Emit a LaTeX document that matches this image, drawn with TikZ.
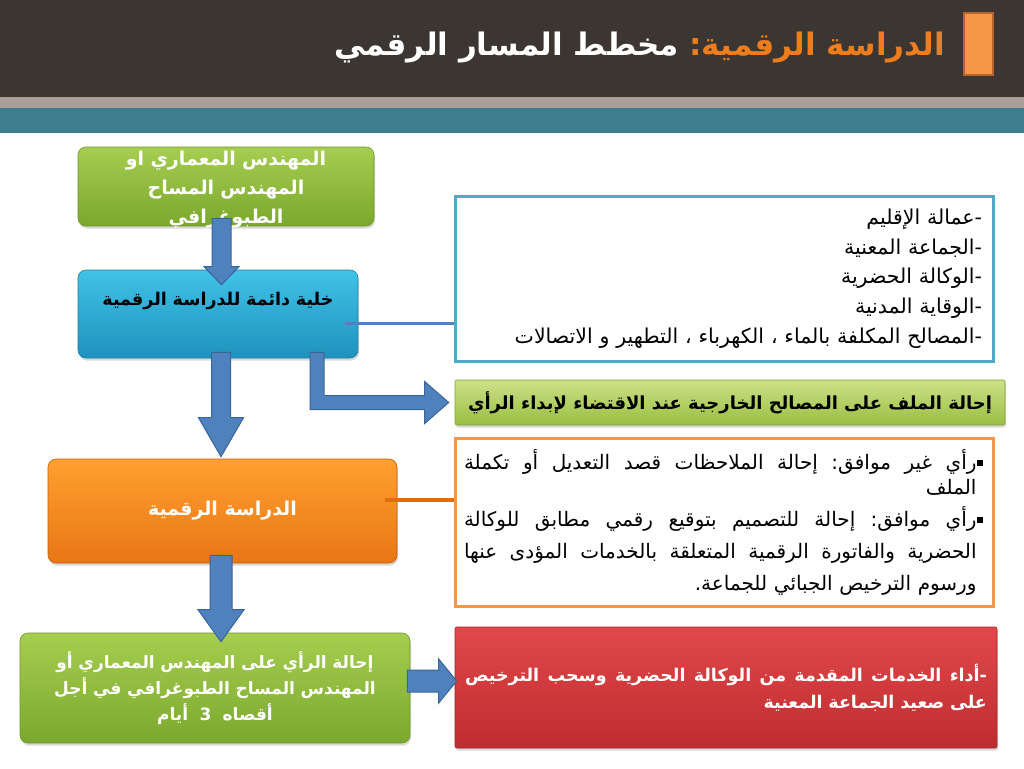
\documentclass[tikz,border=0pt]{standalone}
\usepackage{fontspec}
\newfontfamily\arabicfont[Script=Arabic]{DejaVu Sans}
\TeXXeTstate=1
\usepackage{xcolor}
\definecolor{headdark}{HTML}{3B3631}
\definecolor{headgray}{HTML}{A79F98}
\definecolor{headteal}{HTML}{3D7E8E}
\definecolor{titleorange}{HTML}{EE7D1E}
\definecolor{markfill}{HTML}{F79646}
\definecolor{markline}{HTML}{B5652E}
\definecolor{arrowblue}{HTML}{4F81BD}
\definecolor{arrowline}{HTML}{3A6598}
\definecolor{listline}{HTML}{4BACC6}
\definecolor{noteorange}{HTML}{F79646}
\definecolor{linkorange}{HTML}{E36C09}
\usetikzlibrary{calc,positioning,shadows}
\tikzset{
  every picture/.style={line width=0.6pt},
  card/.style={rounded corners=8pt, align=center, inner sep=6pt,
    drop shadow={shadow xshift=1pt, shadow yshift=-2.5pt, opacity=0.3}},
  greencard/.style={card, top color={rgb,255:red,166;green,206;blue,80}, bottom color={rgb,255:red,122;green,168;blue,45}, draw={rgb,255:red,112;green,150;blue,44}},
  palecard/.style={card, rounded corners=2pt, top color={rgb,255:red,204;green,225;blue,136}, bottom color={rgb,255:red,154;green,190;blue,66}, draw={rgb,255:red,130;green,160;blue,60}},
  cyancard/.style={card, top color={rgb,255:red,64;green,194;blue,232}, bottom color={rgb,255:red,30;green,146;blue,190}, draw={rgb,255:red,34;green,126;blue,162}},
  orangecard/.style={card, top color={rgb,255:red,255;green,160;blue,48}, bottom color={rgb,255:red,232;green,118;blue,20}, draw={rgb,255:red,196;green,98;blue,14}},
  redcard/.style={card, rounded corners=2pt, top color={rgb,255:red,226;green,72;blue,74}, bottom color={rgb,255:red,190;green,44;blue,48}, draw={rgb,255:red,160;green,36;blue,40}},
  listbox/.style={draw=#1, line width=3pt, fill=white, inner sep=0pt},
  marker/.style={fill=markfill, draw=markline, line width=2pt, minimum width=29, minimum height=62, inner sep=0pt},
  titletext/.style={font=\arabicfont\bfseries\fontsize{31}{38}\selectfont, inner xsep=0pt},
  fatarrow/.style={fill=arrowblue, draw=arrowline, line width=1pt, line join=miter},
  linkline/.style={draw=#1, line width=3pt},
  plaintext/.style={font=\arabicfont\fontsize{#1}{29.75}\selectfont},
  boldtext/.style={font=\arabicfont\bfseries\fontsize{#1}{28}\selectfont},
}
% block arrows: start, tip, shaft half width, head half width, head length
\newcommand{\fatdown}[5]{%
  \draw[fatarrow] ($(#1)+(-#3,0)$) -- ($(#1)+(#3,0)$) -- ($(#2)+(#3,-#5)$) -- ($(#2)+(#4,-#5)$)
    -- (#2) -- ($(#2)+(-#4,-#5)$) -- ($(#2)+(-#3,-#5)$) -- cycle;}
\newcommand{\fatright}[5]{%
  \draw[fatarrow] ($(#1)+(0,-#3)$) -- ($(#1)+(0,#3)$) -- ($(#2)+(-#5,#3)$) -- ($(#2)+(-#5,#4)$)
    -- (#2) -- ($(#2)+(-#5,-#4)$) -- ($(#2)+(-#5,-#3)$) -- cycle;}
\newcommand{\sqbullet}{\hbox{\hspace{1.5pt}\rule[3pt]{6pt}{6pt}}}

\begin{document}
\begin{tikzpicture}[x=1pt,y=-1pt]
  \useasboundingbox (0,0) rectangle (1024,768);
  \fill[white] (0,0) rectangle (1024,768);
  % header bands
  \fill[headdark] (0,0) rectangle (1024,97);
  \fill[headgray] (0,97) rectangle (1024,108);
  \fill[headteal] (0,108) rectangle (1024,133);
  \node[marker] (mark) at (978.5,44) {};
  \node[titletext, anchor=east, text=titleorange] (title) at (945,48)
    {\beginR الدراسة الرقمية\hbox{:}\endR};
  \node[titletext, anchor=east, text=white] (subtitle) at ($(title.west)+(-10,0)$)
    {\beginR مخطط المسار الرقمي\endR};

  % left column
  \node[greencard, text=white, boldtext=19, text width=284, minimum width=296, minimum height=79,
    inner ysep=0pt, text height=18, text depth=61] (eng) at (226,186.5)
    {\beginR المهندس المعماري او\endR\\[1pt] \beginR المهندس المساح\endR\\[1pt] \beginR الطبوغرافي\endR};
  \node[cyancard, boldtext=17.5, text width=268, minimum width=280, minimum height=88,
    inner ysep=0pt, text height=35, text depth=53] (cell) at (218,314)
    {\beginR خلية دائمة للدراسة الرقمية\endR};
  \node[orangecard, text=white, boldtext=19, minimum width=349, minimum height=104] (study) at (222.5,511)
    {\beginR الدراسة الرقمية\endR};
  \node[greencard, text=white, text width=374, minimum width=390, minimum height=110,
    font=\arabicfont\bfseries\fontsize{17}{26}\selectfont] (referral) at (215,688)
    {\beginR إحالة الرأي على المهندس المعماري أو\endR\\ \beginR المهندس المساح الطبوغرافي في أجل\endR\\ \beginR أقصاه\ \ 3\ \ أيام\endR};

  % right column
  \node[listbox=listline, plaintext=20.5, text width=516, align=right, minimum width=538, minimum height=165] (bodies) at (724,278.5)
    {\beginR\hbox{-}عمالة الإقليم\endR\\
     \beginR\hbox{-}الجماعة المعنية\endR\\
     \beginR\hbox{-}الوكالة الحضرية\endR\\
     \beginR\hbox{-}الوقاية المدنية\endR\\
     \beginR\hbox{-}المصالح المكلفة بالماء ، الكهرباء ، التطهير و الاتصالات\endR};
  \node[palecard, boldtext=18, minimum width=550, minimum height=45] (external) at (730,402.5)
    {\beginR إحالة الملف على المصالح الخارجية عند الاقتضاء لإبداء الرأي\endR};
  \node[listbox=noteorange, text width=520, align=right, minimum width=538, minimum height=168,
    font=\arabicfont\fontsize{20}{32}\selectfont] (opinions) at (724,522)
    {\makebox[\linewidth][s]{\beginR\sqbullet رأي\hfil غير\hfil موافق\hbox{:}\hfil إحالة\hfil الملاحظات\hfil قصد\hfil التعديل\hfil أو\hfil تكملة\endR}\\[-7pt]
     \makebox[\linewidth][r]{\beginR\hspace{7.5pt}الملف\endR}\\
     \makebox[\linewidth][s]{\beginR\sqbullet رأي\hfil موافق\hbox{:}\hfil إحالة\hfil للتصميم\hfil بتوقيع\hfil رقمي\hfil مطابق\hfil للوكالة\endR}\\
     \makebox[\linewidth][s]{\beginR\hspace{7.5pt}الحضرية\hfil والفاتورة\hfil الرقمية\hfil المتعلقة\hfil بالخدمات\hfil المؤدى\hfil عنها\endR}\\
     \makebox[\linewidth][r]{\beginR\hspace{7.5pt}ورسوم الترخيص الجبائي للجماعة\hbox{.}\endR}};
  \node[redcard, text=white, text width=522, align=right, minimum width=542, minimum height=121,
    font=\arabicfont\bfseries\fontsize{17.5}{27}\selectfont] (fees) at (726,687.5)
    {\makebox[\linewidth][s]{\beginR\hbox{-}أداء\hfil الخدمات\hfil المقدمة\hfil من\hfil الوكالة\hfil الحضرية\hfil وسحب\hfil الترخيص\endR}\\
     \beginR على صعيد الجماعة المعنية\endR};

  % connectors
  \coordinate (a1) at ($(eng.south)+(-4.5,-8)$);
  \coordinate (t1) at ($(a1 |- cell.north)+(0,15)$);
  \fatdown{a1}{t1}{9.5}{17.5}{18}
  \coordinate (a2) at ($(cell.south)+(3,-6)$);
  \coordinate (t2) at ($(a2 |- study.north)+(0,-2)$);
  \fatdown{a2}{t2}{9.5}{22.5}{39}
  \coordinate (a3) at ($(study.south)+(-1.5,-8)$);
  \coordinate (t3) at ($(a3 |- referral.north)+(0,9)$);
  \fatdown{a3}{t3}{11}{23}{32}
  \coordinate (a4) at ($(referral.east)+(-3,-7)$);
  \coordinate (t4) at ($(a4 -| fees.west)+(2,0)$);
  \fatright{a4}{t4}{11}{22}{18}
  % bent arrow to the external services
  \coordinate (b0) at ($(cell.south)+(92,-6)$);
  \coordinate (t5) at ($(external.west)+(-6,0)$);
  \draw[fatarrow] (b0) -- ++(14,0) |- ($(t5)+(-24,-7)$) -- ($(t5)+(-24,-21)$) -- (t5)
    -- ($(t5)+(-24,21)$) -- ($(t5)+(-24,7)$) -| (b0) -- cycle;
  \coordinate (c0) at ($(cell.east)+(-13,9)$);
  \draw[linkline=arrowblue] (c0) -- (c0 -| bodies.west);
  \coordinate (s0) at ($(study.east)+(-12,-11)$);
  \draw[linkline=linkorange, line width=4.5pt] (s0) -- (s0 -| opinions.west);
\end{tikzpicture}
\end{document}
